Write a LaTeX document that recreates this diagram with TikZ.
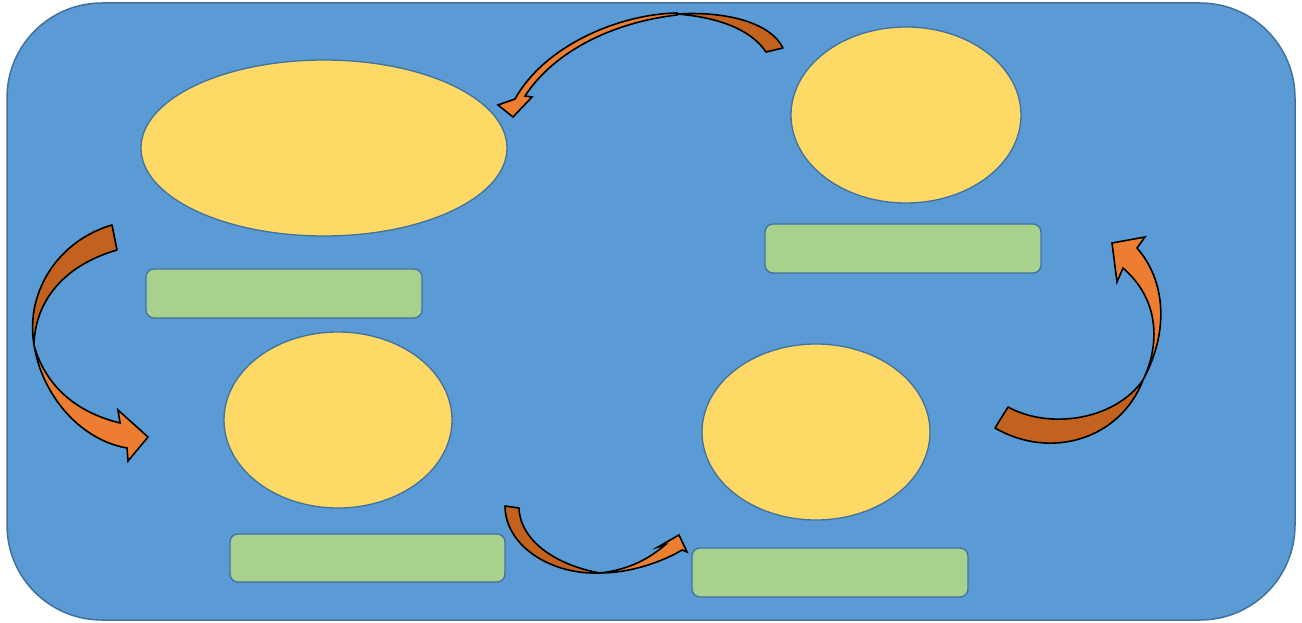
\documentclass[tikz,border=0pt]{standalone}
\begin{document}
\begin{tikzpicture}[x=1pt,y=-1pt,
  bg/.style={fill=bgblue,draw=edgeblue,line width=1.5pt,rounded corners=95pt},
  blob/.style={fill=yel,draw=edgeblue,line width=1.3pt},
  bar/.style={fill=grn,draw=edgeblue,line width=1.3pt,rounded corners=8pt},
  darkpart/.style={fill=odark,draw=black,line width=1.6pt,line join=round},
  lightpart/.style={fill=olight,draw=black,line width=1.6pt,line join=miter}]
\definecolor{bgblue}{HTML}{5B9BD5}
\definecolor{edgeblue}{HTML}{41719C}
\definecolor{yel}{HTML}{FFD966}
\definecolor{grn}{HTML}{A9D18E}
\definecolor{odark}{HTML}{C3611F}
\definecolor{olight}{HTML}{ED7D31}
\useasboundingbox (0,0) rectangle (1302,623);
\draw[bg] (7,3) rectangle (1295,620);
% ellipses
\draw[blob] (324,148) ellipse [x radius=183, y radius=88];
\draw[blob] (906,115) ellipse [x radius=115, y radius=88];
\draw[blob] (338,420) ellipse [x radius=114, y radius=88];
\draw[blob] (816,432) ellipse [x radius=114, y radius=88];
% bars
\draw[bar] (146,269) rectangle (422,318);
\draw[bar] (765,224) rectangle (1041,273);
\draw[bar] (230,534) rectangle (505,582);
\draw[bar] (692,548) rectangle (968,597);
% arrow 1 (top)
\draw[darkpart] (783,48) .. controls (770,22) and (725,11) .. (677,14)
  .. controls (715,17) and (750,28) .. (766,52) -- cycle;
\draw[lightpart] (677,13) .. controls (620,14) and (545,45) .. (515,99)
  -- (498,105) -- (513,117) -- (532,97) -- (525,96)
  .. controls (555,50) and (615,22) .. (677,15) -- cycle;
% arrow 2 (left)
\draw[darkpart] (112,225) .. controls (60,240) and (25,290) .. (34,345)
  .. controls (35,300) and (65,265) .. (117,250) -- cycle;
\draw[lightpart] (34,345) .. controls (42,395) and (80,440) .. (127,448)
  -- (128,461) -- (148,437) -- (118,410) -- (120,423)
  .. controls (75,412) and (45,385) .. (34,345) -- cycle;
% arrow 3 (right)
\draw[darkpart] (995,428) .. controls (1050,460) and (1120,440) .. (1143,380)
  .. controls (1115,420) and (1050,430) .. (1008,407) -- cycle;
\draw[lightpart] (1143,380) .. controls (1170,330) and (1165,280) .. (1137,248)
  -- (1145,237) -- (1112,243) -- (1117,282) -- (1123,268)
  .. controls (1160,300) and (1160,345) .. (1143,380) -- cycle;
% arrow 4 (bottom)
\draw[darkpart] (505,506) .. controls (505,545) and (550,575) .. (600,573)
  .. controls (555,565) and (520,540) .. (519,508) -- cycle;
\draw[lightpart] (600,573) .. controls (630,573) and (662,562) .. (682,550)
  -- (687,552) -- (679,535) -- (658,547) -- (665,545)
  .. controls (645,562) and (625,570) .. (600,573) -- cycle;
\end{tikzpicture}
\end{document}
